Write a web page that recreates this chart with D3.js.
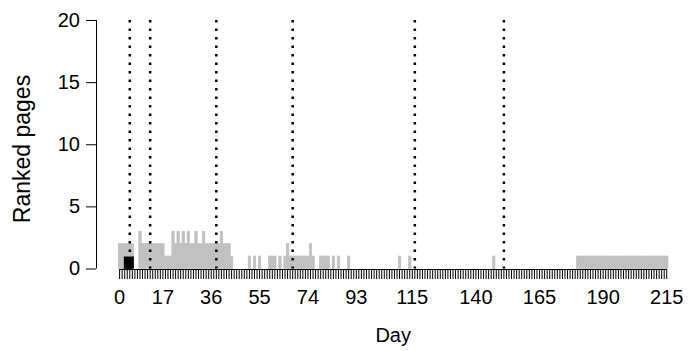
<!DOCTYPE html>
<html>
<head>
<meta charset="utf-8">
<script src="https://cdn.jsdelivr.net/npm/d3@7"></script>
<style>
  html, body { margin: 0; padding: 0; background: #fff; }
  svg { display: block; font-family: "Liberation Sans", Arial, sans-serif; }
</style>
</head>
<body>
<svg id="chart" width="692" height="351"></svg>
<script>
// Days of observation (one bar per day)
const days = d3.range(0, 216);

// Ranked pages per day, upper (gray) part of each stacked bar
const grayPages = [
  2,2,1,1,1,1,0,0,3,2,
  2,2,2,2,2,2,2,2,1,1,
  1,3,2,3,2,3,2,3,2,2,
  3,2,2,3,2,2,2,2,2,2,
  3,2,2,2,1,0,0,0,0,0,
  0,1,0,1,0,1,0,0,0,1,
  1,1,0,1,0,1,2,1,1,1,
  1,1,1,1,1,2,1,0,0,1,
  1,1,1,0,1,0,1,0,0,0,
  1,0,0,0,0,0,0,0,0,0,
  0,0,0,0,0,0,0,0,0,0,
  1,0,0,0,1,0,0,0,0,0,
  0,0,0,0,0,0,0,0,0,0,
  0,0,0,0,0,0,0,0,0,0,
  0,0,0,0,0,0,0,1,0,0,
  0,0,0,0,0,0,0,0,0,0,
  0,0,0,0,0,0,0,0,0,0,
  0,0,0,0,0,0,0,0,0,0,
  1,1,1,1,1,1,1,1,1,1,
  1,1,1,1,1,1,1,1,1,1,
  1,1,1,1,1,1,1,1,1,1,
  1,1,1,1,1,1
];

// Ranked pages per day, lower (black) part of each stacked bar
const blackDays = [2, 3, 4, 5];
const blackPages = [1, 1, 1, 1];

// Days marked with vertical dotted lines
const eventDays = [4, 12, 38, 68, 116, 151];

// Tick labels shown on the axes
const xTickLabels = [0, 17, 36, 55, 74, 93, 115, 140, 165, 190, 215];
const yTicks = [0, 5, 10, 15, 20];

const table = days.map((d, i) => {
  const k = blackDays.indexOf(d);
  return { day: d, black: k >= 0 ? blackPages[k] : 0, gray: grayPages[i] };
});

const svg = d3.select("#chart");

const x = d3.scaleBand()
  .domain(days)
  .range([118.4, 668])
  .paddingInner(0.04)
  .paddingOuter(0);

const y = d3.scaleLinear().domain([0, 20]).range([268.5, 20]);

const stack = d3.stack().keys(["black", "gray"]);
const series = stack(table);
const fills = { black: "#000000", gray: "#c0c0c0" };

// Stacked bars (a thin same-colour outline closes the seams between neighbours)
svg.append("g")
  .selectAll("g")
  .data(series)
  .join("g")
  .attr("fill", s => fills[s.key])
  .attr("stroke", s => fills[s.key])
  .attr("stroke-width", 0.7)
  .selectAll("rect")
  .data(s => s.filter(p => p[1] > p[0]))
  .join("rect")
  .attr("x", p => x(p.data.day))
  .attr("width", x.bandwidth())
  .attr("y", p => y(p[1]))
  .attr("height", p => y(p[0]) - y(p[1]));

// Dotted event lines
svg.append("g")
  .selectAll("line")
  .data(eventDays)
  .join("line")
  .attr("x1", d => x(d) + x.bandwidth() / 2)
  .attr("x2", d => x(d) + x.bandwidth() / 2)
  .attr("y1", y(20))
  .attr("y2", y(0))
  .attr("stroke", "#000")
  .attr("stroke-width", 2.5)
  .attr("stroke-dasharray", "2.5,6");

// X axis: a tick under every day, labels on selected days
const xAxis = d3.axisBottom(x)
  .tickValues(days)
  .tickSize(10)
  .tickSizeOuter(0)
  .tickPadding(11)
  .tickFormat(d => xTickLabels.includes(d) ? String(d) : "");

const gx = svg.append("g")
  .attr("transform", `translate(0,${y(0) + 0.5})`)
  .call(xAxis);
gx.select(".domain")
  .attr("d", `M${x(days[0]) + x.bandwidth() / 2},0.5H${x(days[days.length - 1]) + x.bandwidth() / 2}`);
gx.selectAll(".tick line").attr("stroke", "#000");
gx.selectAll(".tick text")
  .attr("font-size", 20)
  .attr("fill", "#000")
  .attr("font-family", "'Liberation Sans', Arial, sans-serif");

// Y axis
const gy = svg.append("g")
  .attr("transform", "translate(96,0)")
  .call(d3.axisLeft(y).tickValues(yTicks).tickSize(10).tickSizeOuter(0).tickPadding(6));
gy.select(".domain").attr("d", `M0.5,${y(0)}V${y(20)}`);
gy.selectAll(".tick text")
  .attr("font-size", 20)
  .attr("fill", "#000")
  .attr("font-family", "'Liberation Sans', Arial, sans-serif");

// Axis titles
svg.append("text")
  .attr("x", (x(0) + x(215) + x.bandwidth()) / 2)
  .attr("y", 342)
  .attr("text-anchor", "middle")
  .attr("font-size", 20)
  .text("Day");

svg.append("text")
  .attr("transform", "translate(30,149) rotate(-90)")
  .attr("text-anchor", "middle")
  .attr("font-size", 23)
  .text("Ranked pages");
</script>
</body>
</html>
